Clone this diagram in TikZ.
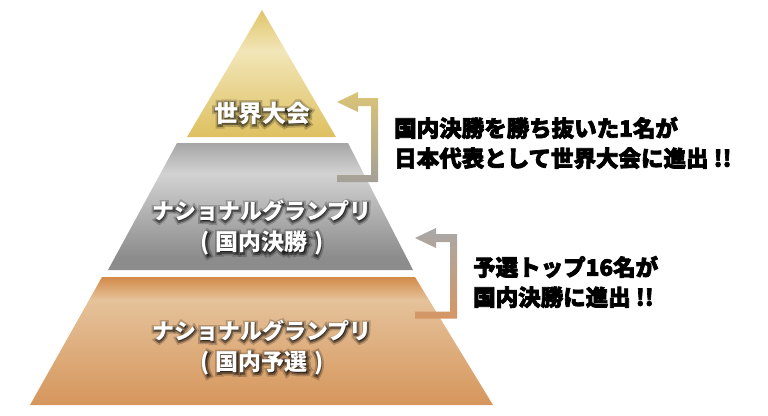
\documentclass[tikz,border=0pt]{standalone}
\usepackage{fontspec}
\setmainfont{Noto Sans CJK JP}
\newfontfamily\haloouter{Noto Sans CJK JP}[FakeBold=30]
\newfontfamily\haloinner{Noto Sans CJK JP}[FakeBold=15]
\newfontfamily\notefont{Noto Sans CJK JP}[FakeBold=3]
\usetikzlibrary{calc}
\definecolor{goldtop}{RGB}{224,196,104}
\definecolor{goldlight}{RGB}{242,230,184}
\definecolor{goldbase}{RGB}{222,192,96}
\definecolor{graytop}{RGB}{166,166,166}
\definecolor{graylight}{RGB}{210,210,210}
\definecolor{graybase}{RGB}{140,140,140}
\definecolor{coppertop}{RGB}{211,139,74}
\definecolor{copperlight}{RGB}{229,194,154}
\definecolor{copperbase}{RGB}{214,150,92}
\definecolor{arrowgold}{RGB}{218,196,118}
\definecolor{arrowgray}{RGB}{164,160,152}
\definecolor{arrowsilver}{RGB}{168,168,168}
\definecolor{arrowcopper}{RGB}{214,150,100}
\pgfdeclareverticalshading{goldtier}{100bp}{color(0bp)=(goldbase); color(25bp)=(goldbase);
  color(59bp)=(goldlight); color(75bp)=(goldtop); color(100bp)=(goldtop)}
\pgfdeclareverticalshading{graytier}{100bp}{color(0bp)=(graybase); color(25bp)=(graybase);
  color(30bp)=(graybase); color(63bp)=(graylight); color(75bp)=(graytop); color(100bp)=(graytop)}
\pgfdeclareverticalshading{coppertier}{100bp}{color(0bp)=(copperbase); color(25bp)=(copperbase);
  color(66bp)=(copperlight); color(75bp)=(coppertop); color(100bp)=(coppertop)}
\pgfdeclareverticalshading{goldarrow}{100bp}{color(0bp)=(arrowgray); color(25bp)=(arrowgray);
  color(75bp)=(arrowgold); color(100bp)=(arrowgold)}
\pgfdeclareverticalshading{copperarrow}{100bp}{color(0bp)=(arrowcopper); color(25bp)=(arrowcopper);
  color(75bp)=(arrowsilver); color(100bp)=(arrowsilver)}

% white label with a soft dark halo: name, position, size, text
\newcommand{\glowlabel}[4]{%
  \begin{scope}[opacity=0.2]
    \node[tiertext, font=\haloouter\fontsize{#3}{#3}\selectfont] at ($(#2)+(0.5,1)$) {#4};
  \end{scope}
  \begin{scope}[opacity=0.4]
    \node[tiertext, font=\haloinner\fontsize{#3}{#3}\selectfont] at ($(#2)+(0.5,1)$) {#4};
  \end{scope}
  \node[tiertext, text=white, font=\bfseries\fontsize{#3}{#3}\selectfont]
    (#1) at (#2) {#4};}

% bracket arrow from its corner (#2) back to its tip (#1)
\newcommand{\bracketarrow}[3]{%
  \shade[shading=#3] (#1) -- ($(#1)+(21,-10)$) -- ($(#1)+(21,-4)$)
    -- ($(#1 -| #2)+(3.5,-4)$) -- ($(#2)+(3.5,3.5)$) -- ($(#1 |- #2)+(0,3.5)$)
    -- ($(#1 |- #2)+(0,-3.5)$) -- ($(#2)+(-3.5,-3.5)$) -- ($(#1 -| #2)+(-3.5,4)$)
    -- ($(#1)+(21,4)$) -- ($(#1)+(21,10)$) -- cycle;}

\begin{document}
\begin{tikzpicture}[x=1pt, y=-1pt,
  tiertext/.style={text=black, inner sep=0pt},
  notetext/.style={text=black, font=\notefont\bfseries\fontsize{22.5}{30}\selectfont,
                   align=left, anchor=west, inner sep=0pt}]
  \useasboundingbox (0,0) rectangle (768,415);

  % Pyramid tiers
  \shade[shading=goldtier] (262,10) -- (336,137) -- (187,137) -- cycle;
  \shade[shading=graytier] (177,143) -- (348,143) -- (413,270) -- (108,270) -- cycle;
  \shade[shading=coppertier] (102,277) -- (415,277) -- (493,405) -- (30,405) -- cycle;

  % Tier labels
  \coordinate (worldpos) at (262,113);
  \coordinate (finalpos) at (262,211);
  \coordinate (finalsub) at (262,243);
  \coordinate (qualpos) at (262,331);
  \coordinate (qualsub) at (262,363);
  \glowlabel{world}{worldpos}{24}{世界大会}
  \glowlabel{final}{finalpos}{22}{ナショナルグランプリ}
  \glowlabel{finalname}{finalsub}{23}{(\;国内決勝\;)}
  \glowlabel{qual}{qualpos}{22}{ナショナルグランプリ}
  \glowlabel{qualname}{qualsub}{23}{(\;国内予選\;)}

  % Notes on the right
  \node[notetext] (worldnote) at (394,143)
    {国内決勝を勝ち抜いた1名が\\日本代表として世界大会に進出 !!};
  \node[notetext] (finalnote) at (473,282)
    {予選トップ16名が\\国内決勝に進出 !!};

  % Bracket arrows
  \coordinate (worldtip) at (337,102);
  \coordinate (worldcorner) at (374.5,178.5);
  \coordinate (finaltip) at (415,238);
  \coordinate (finalcorner) at (453.5,315);
  \bracketarrow{worldtip}{worldcorner}{goldarrow}
  \bracketarrow{finaltip}{finalcorner}{copperarrow}
\end{tikzpicture}
\end{document}
